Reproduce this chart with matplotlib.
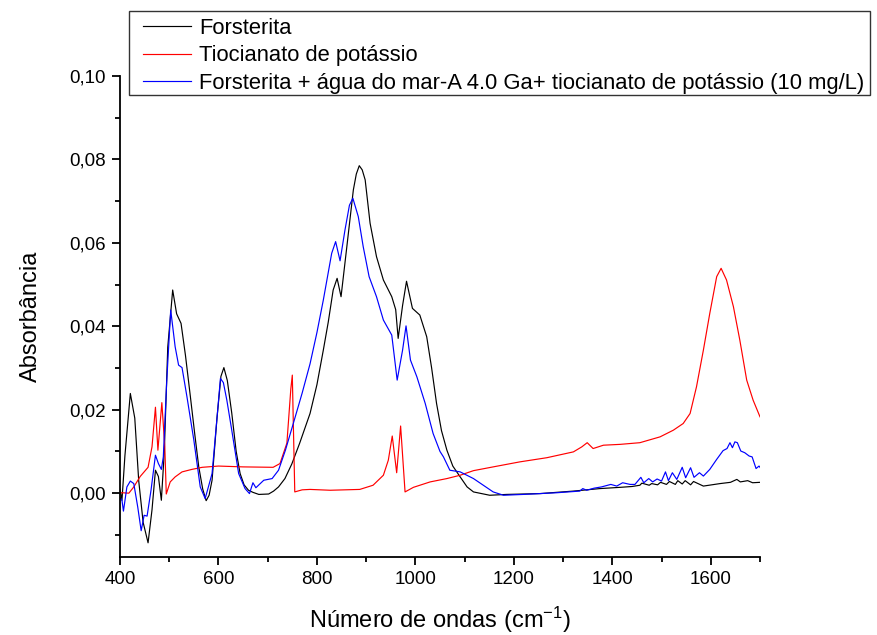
import numpy as np
import matplotlib
matplotlib.use('Agg')
import matplotlib.pyplot as plt
from matplotlib.ticker import MultipleLocator, FuncFormatter
from matplotlib.patches import Rectangle

plt.rcParams['font.family'] = ['Liberation Sans', 'DejaVu Sans']
plt.rcParams['mathtext.fontset'] = 'custom'
plt.rcParams['mathtext.rm'] = 'Liberation Sans'
plt.rcParams['mathtext.it'] = 'Liberation Sans'

# Forsterita
x_fo = [400, 404, 410, 421, 430, 438, 447, 457, 465, 472, 478, 484, 490, 497, 507, 515, 524, 533,
        543, 552, 560, 568, 575, 581, 587, 597, 605, 611, 618, 627, 636, 644, 652, 661, 670, 682,
        702, 712, 722, 735, 749, 765, 786, 800, 813, 823, 833, 841, 849, 860, 874, 880, 886, 892,
        898, 908, 921, 935, 952, 960, 965, 974, 982, 994, 1009, 1023, 1033, 1043, 1053, 1064, 1076,
        1091, 1105, 1118, 1151, 1185, 1253, 1321, 1375, 1416, 1440, 1456, 1460, 1475, 1480, 1492,
        1498, 1510, 1516, 1528, 1533, 1542, 1548, 1559, 1565, 1585, 1619, 1640, 1653, 1660, 1675,
        1685, 1700]
y_fo = [0.0010, -0.0017, 0.0090, 0.0239, 0.0180, 0.0030, -0.0070, -0.0119, -0.0040, 0.0055, 0.0040,
        -0.0017, 0.0100, 0.0350, 0.0487, 0.0430, 0.0407, 0.0330, 0.0231, 0.0140, 0.0063, 0.0010,
        -0.0018, -0.0005, 0.0031, 0.0180, 0.0280, 0.0301, 0.0270, 0.0192, 0.0100, 0.0047, 0.0020,
        0.0007, 0.0002, -0.0003, -0.0002, 0.0005, 0.0015, 0.0035, 0.0070, 0.0120, 0.0191, 0.0260,
        0.0343, 0.0410, 0.0487, 0.0515, 0.0471, 0.0583, 0.0727, 0.0765, 0.0785, 0.0775, 0.0751,
        0.0647, 0.0567, 0.0511, 0.0471, 0.0440, 0.0371, 0.0450, 0.0508, 0.0443, 0.0427, 0.0375,
        0.0300, 0.0215, 0.0150, 0.0103, 0.0065, 0.0039, 0.0015, 0.0003, -0.0005, -0.0003, -0.0001,
        0.0005, 0.0011, 0.0014, 0.0016, 0.0019, 0.0024, 0.0019, 0.0023, 0.0020, 0.0026, 0.0021,
        0.0028, 0.0021, 0.0030, 0.0022, 0.0030, 0.0020, 0.0028, 0.0017, 0.0023, 0.0026, 0.0033,
        0.0027, 0.0030, 0.0025, 0.0026]

# Tiocianato de potássio
x_tc = [400, 404, 418, 428, 441, 457, 465, 472, 477, 485, 491, 494, 502, 512, 526, 546, 567, 600,
        650, 711, 725, 739, 747, 750, 755, 770, 786, 827, 887, 914, 935, 945, 953, 962, 970, 979,
        996, 1030, 1064, 1091, 1118, 1158, 1212, 1267, 1321, 1338, 1349, 1361, 1382, 1416, 1456,
        1497, 1524, 1544, 1558, 1571, 1585, 1598, 1612, 1621, 1632, 1646, 1659, 1673, 1686, 1700]
y_tc = [0.0001, 0.0001, 0.0000, 0.0015, 0.0040, 0.0062, 0.0111, 0.0206, 0.0103, 0.0217, 0.0111,
        -0.0002, 0.0027, 0.0039, 0.0051, 0.0057, 0.0062, 0.0065, 0.0063, 0.0062, 0.0071, 0.0120,
        0.0250, 0.0283, 0.0003, 0.0008, 0.0009, 0.0007, 0.0009, 0.0019, 0.0043, 0.0079, 0.0137,
        0.0049, 0.0161, 0.0003, 0.0014, 0.0027, 0.0035, 0.0043, 0.0054, 0.0063, 0.0075, 0.0085,
        0.0099, 0.0111, 0.0121, 0.0107, 0.0115, 0.0117, 0.0121, 0.0135, 0.0151, 0.0167, 0.0191,
        0.0255, 0.0343, 0.0431, 0.0519, 0.0539, 0.0511, 0.0447, 0.0367, 0.0271, 0.0223, 0.0183]

# Forsterita + água do mar-A 4.0 Ga + tiocianato de potássio (10 mg/L)
x_mix = [400, 404, 407, 414, 421, 428, 436, 443, 449, 455, 463, 472, 478, 484, 488, 495, 503, 512,
         519, 526, 536, 550, 563, 573, 587, 597, 604, 610, 617, 627, 641, 654, 663, 670, 676, 692,
         709, 722, 736, 752, 770, 786, 800, 813, 830, 838, 847, 857, 866, 873, 884, 894, 906, 921,
         935, 952, 963, 974, 981, 990, 1003, 1020, 1036, 1050, 1057, 1070, 1091, 1118, 1138, 1158,
         1179, 1219, 1287, 1334, 1340, 1348, 1363, 1378, 1397, 1409, 1421, 1436, 1446, 1458, 1464,
         1474, 1482, 1491, 1500, 1508, 1514, 1522, 1531, 1542, 1549, 1559, 1566, 1577, 1585, 1598,
         1612, 1625, 1633, 1639, 1644, 1649, 1654, 1661, 1669, 1678, 1684, 1692, 1698, 1700]
y_mix = [-0.0010, -0.0017, -0.0043, 0.0015, 0.0029, 0.0023, -0.0033, -0.0090, -0.0053, -0.0055,
         0.0007, 0.0091, 0.0071, 0.0057, 0.0087, 0.0270, 0.0439, 0.0351, 0.0307, 0.0301, 0.0231,
         0.0127, 0.0015, -0.0013, 0.0047, 0.0180, 0.0275, 0.0265, 0.0223, 0.0151, 0.0047, 0.0011,
         -0.0001, 0.0025, 0.0013, 0.0031, 0.0035, 0.0055, 0.0103, 0.0167, 0.0240, 0.0310, 0.0385,
         0.0463, 0.0575, 0.0603, 0.0557, 0.0631, 0.0690, 0.0707, 0.0663, 0.0591, 0.0519, 0.0471,
         0.0415, 0.0379, 0.0271, 0.0343, 0.0401, 0.0319, 0.0279, 0.0215, 0.0143, 0.0100, 0.0087,
         0.0055, 0.0051, 0.0035, 0.0019, 0.0003, -0.0005, -0.0003, 0.0001, 0.0005, 0.0011, 0.0007,
         0.0012, 0.0015, 0.0021, 0.0017, 0.0025, 0.0021, 0.0021, 0.0038, 0.0025, 0.0035, 0.0027,
         0.0034, 0.0029, 0.0051, 0.0030, 0.0049, 0.0033, 0.0062, 0.0037, 0.0061, 0.0038, 0.0049,
         0.0041, 0.0057, 0.0081, 0.0102, 0.0107, 0.0121, 0.0109, 0.0123, 0.0121, 0.0101, 0.0097,
         0.0089, 0.0087, 0.0059, 0.0065, 0.0062]

labels = ['Forsterita', 'Tiocianato de potássio',
          'Forsterita + água do mar-A 4.0 Ga+ tiocianato de potássio (10 mg/L)']
colors = ['black', 'red', 'blue']

W, H = 877, 635
fig = plt.figure(figsize=(W / 100, H / 100), dpi=100)
ax = fig.add_axes([120 / W, 1 - 557 / H, 640 / W, 481 / H])

ax.plot(x_fo, y_fo, color=colors[0], lw=0.85, label=labels[0])
ax.plot(x_tc, y_tc, color=colors[1], lw=0.85, label=labels[1])
ax.plot(x_mix, y_mix, color=colors[2], lw=0.85, label=labels[2])

ax.set_xlim(400, 1700)
ax.set_ylim(-0.0153, 0.10)
ax.spines['top'].set_visible(False)
ax.spines['right'].set_visible(False)
ax.spines['left'].set_linewidth(1.3)
ax.spines['bottom'].set_linewidth(1.3)

ax.xaxis.set_major_locator(MultipleLocator(200))
ax.xaxis.set_minor_locator(MultipleLocator(100))
ax.yaxis.set_major_locator(MultipleLocator(0.02))
ax.yaxis.set_minor_locator(MultipleLocator(0.01))
ax.yaxis.set_major_formatter(FuncFormatter(lambda v, p: ('%.2f' % v).replace('.', ',')))
ax.tick_params(which='major', direction='out', length=6, width=1.3, labelsize=13.5, pad=4)
ax.tick_params(which='minor', direction='out', length=3.5, width=1.3)

ax.set_xlabel('Número de ondas (cm$^{\\mathregular{-1}}$)', fontsize=17, labelpad=12)
ax.set_ylabel('Absorbância', fontsize=17, labelpad=20)

# legend frame drawn as its own box
fig.patches.append(Rectangle((129 / W, 1 - 95 / H), 741 / W, 84 / H, transform=fig.transFigure,
                             fill=False, edgecolor='#333333', linewidth=1.0))
leg = fig.legend(loc='upper left', bbox_to_anchor=(143 / W, 1 - 18 / H), fontsize=15.8,
                 frameon=False, handlelength=2.2, labelspacing=0.29,
                 borderaxespad=0, borderpad=0, handletextpad=0.35)

plt.savefig('out.png', dpi=100)
